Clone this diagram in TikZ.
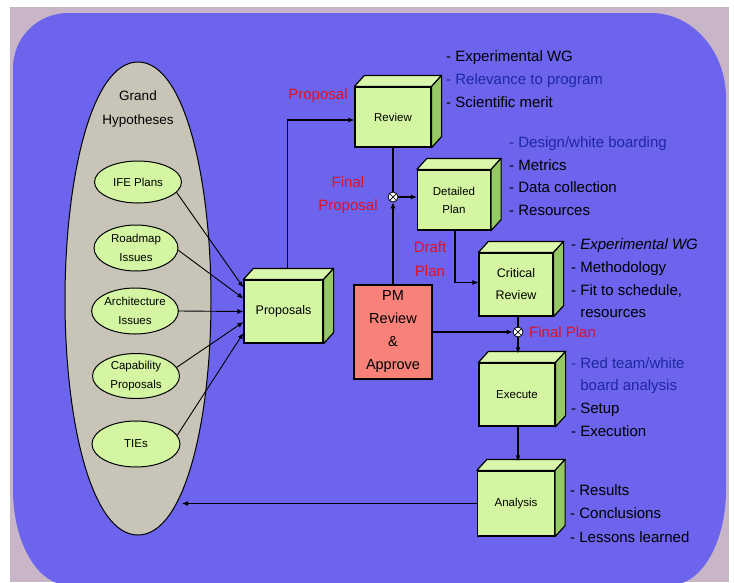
\documentclass[tikz,border=0pt]{standalone}
\usepackage{fontspec}
\setmainfont{Liberation Sans}
\usetikzlibrary{shapes.geometric,arrows.meta,calc}
\definecolor{mauve}{RGB}{200,182,200}
\definecolor{bgpurple}{RGB}{108,100,236}
\definecolor{grandfill}{RGB}{200,196,184}
\definecolor{cubefront}{RGB}{212,246,162}
\definecolor{cubetop}{RGB}{218,248,172}
\definecolor{cubeside}{RGB}{150,200,100}
\definecolor{ellfill}{RGB}{212,246,162}
\definecolor{pmfill}{RGB}{248,130,122}
\definecolor{tred}{RGB}{225,16,36}
\definecolor{tblue}{RGB}{30,40,160}
\newcommand\cubefaces[1]{%
  \filldraw[fill=cubetop,line width=1.2pt,line join=round] (#1.north west) -- ++(10,-11) -- ($(#1.north east)+(10,-11)$) -- (#1.north east) -- cycle;
  \filldraw[fill=cubeside,line width=1.2pt,line join=round] (#1.north east) -- ++(10,-11) -- ($(#1.south east)+(10,-11)$) -- (#1.south east) -- cycle;}
\begin{document}
\begin{tikzpicture}[x=1pt,y=-1pt,
  cubef/.style={rectangle,draw,line width=1.2pt,fill=cubefront,inner sep=0pt,align=center,
    font=\fontsize{11.5}{18}\selectfont},
  smallell/.style={ellipse,draw,line width=1pt,fill=ellfill,inner sep=0pt,align=center,
    font=\fontsize{11.5}{19}\selectfont},
  lst/.style={anchor=west,inner sep=0pt,text height=11pt,text depth=3pt,font=\fontsize{15}{18}\selectfont},
  redlbl/.style={inner sep=0pt,text=tred,align=center,font=\fontsize{15}{23.5}\selectfont},
  junc/.style={circle,draw,line width=0.8pt,fill=white,inner sep=0pt,minimum size=10pt,
    path picture={\draw[line width=0.7pt] (path picture bounding box.north west) -- (path picture bounding box.south east)
      (path picture bounding box.north east) -- (path picture bounding box.south west);}},
  arr/.style={draw,line width=1.1pt,-{Latex[length=6pt,width=5pt]}},
  arrthin/.style={draw,line width=0.9pt,-{Latex[length=6pt,width=5pt]}},
  plainln/.style={draw,line width=1.1pt}]
\useasboundingbox (0,0) rectangle (734,582);
\fill[white] (0,0) rectangle (734,582);
\fill[mauve] (10,7) rectangle (729,582);
\fill[bgpurple] (68,13) -- (651,13) arc[start angle=-90,end angle=0,x radius=75,y radius=85]
  -- (726,490) arc[start angle=0,end angle=90,x radius=55,y radius=95]
  -- (68,585) arc[start angle=90,end angle=180,x radius=55,y radius=95]
  -- (13,68) arc[start angle=180,end angle=270,x radius=55,y radius=55] -- cycle;

% Grand hypotheses (egg shape)
\filldraw[fill=grandfill,line width=1pt] (138,62) .. controls (185,62) and (211,180) .. (211,300)
  .. controls (211,420) and (185,535) .. (138,535)
  .. controls (91,535) and (65,420) .. (65,300)
  .. controls (65,180) and (91,62) .. (138,62) -- cycle;
\node[align=center,inner sep=0pt,font=\fontsize{13.5}{24}\selectfont] (gtitle) at (138,109) {Grand\\Hypotheses};
\node[smallell,minimum width=87pt,minimum height=42pt] (ife) at (138,182) {IFE Plans};
\node[smallell,minimum width=84pt,minimum height=46pt] (road) at (136,248) {Roadmap\\Issues};
\node[smallell,minimum width=86pt,minimum height=46pt] (arch) at (135,311) {Architecture\\Issues};
\node[smallell,minimum width=87pt,minimum height=45pt] (cap) at (136,376) {Capability\\Proposals};
\node[smallell,minimum width=88pt,minimum height=46pt] (ties) at (136,444) {TIEs};

% cubes
\node[cubef,minimum width=79pt,minimum height=63pt,font=\fontsize{12.5}{17}\selectfont] (proposals) at (283.5,311.5) {Proposals};
\cubefaces{proposals}
\node[cubef,minimum width=76pt,minimum height=60pt] (review) at (393,117) {Review};
\cubefaces{review}
\node[cubef,minimum width=73pt,minimum height=60pt] (detailed) at (454,200) {Detailed\\Plan};
\cubefaces{detailed}
\node[cubef,minimum width=74pt,minimum height=63pt,font=\fontsize{12.5}{22}\selectfont] (critical) at (516,284.5) {Critical\\Review};
\cubefaces{critical}
\node[cubef,minimum width=76pt,minimum height=63pt] (execute) at (517,394.5) {Execute};
\cubefaces{execute}
\node[cubef,minimum width=77pt,minimum height=65pt] (analysis) at (516,503.5) {Analysis};
\cubefaces{analysis}

% PM box
\node[rectangle,draw,line width=1.2pt,fill=pmfill,minimum width=78pt,minimum height=94pt,inner sep=0pt,
  align=center,font=\fontsize{14.5}{23}\selectfont] (pm) at (393,332) {PM\\Review\\\&\\Approve};

% junctions
\node[junc] (j1) at (393,197) {};
\node[junc] (j2) at (518,332) {};
\coordinate (gh) at (182,503.5);

% connectors
\draw[arrthin] (ife.-15) -- ([yshift=24pt]proposals.west);
\draw[arrthin] (road.-3) -- ([yshift=13pt]proposals.west);
\draw[arrthin] (arch.east) -- (proposals.west);
\draw[arrthin] (cap.12) -- ([yshift=-10.5pt]proposals.west);
\draw[arrthin] (ties.12) -- ([yshift=-21.5pt]proposals.west);
\draw[arr] ($(proposals.north)+(4,-10)$) |- ([yshift=-3pt]review.west);
\draw[plainln] (review.south -| j1) -- (j1);
\draw[arr] (pm.north -| j1) -- (j1);
\draw[arr] (j1) -- (j1 -| detailed.west);
\draw[arr] ([xshift=1pt]detailed.south) |- ([yshift=2pt]critical.west);
\draw[plainln] (critical.south -| j2) -- (j2);
\draw[arr] (j2 -| pm.east) -- (j2);
\draw[arr] (j2) -- ($(j2 |- execute.north)+(0,-9)$);
\draw[arr] (execute.south -| j2) -- ($(j2 |- analysis.north)+(0,-9)$);
\draw[arr] (analysis.west) -- (gh);

% red labels
\node[redlbl] (lprop) at (318,96) {Proposal};
\node[redlbl] (lfinal) at (348,195) {Final\\Proposal};
\node[redlbl] (ldraft) at (430,259) {Draft\\Plan};
\node[redlbl,anchor=west] (lfplan) at (529,332) {Final Plan};

% lists
\node[lst] (ra) at (446,57) {- Experimental WG};
\node[lst,text=tblue] (rb) at (446,80) {- Relevance to program};
\node[lst] (rc) at (446,103) {- Scientific merit};
\node[lst,text=tblue] (da) at (509,143) {- Design/white boarding};
\node[lst] (db) at (509,166) {- Metrics};
\node[lst] (dc) at (509,188) {- Data collection};
\node[lst] (dd) at (509,211) {- Resources};
\node[lst] (ca) at (571,245) {- \textit{Experimental WG}};
\node[lst] (cb) at (571,268) {- Methodology};
\node[lst] (cc) at (571,291) {- Fit to schedule,};
\node[lst] (cd) at (571,313) {\phantom{- }resources};
\node[lst,text=tblue] (ea) at (571,364) {- Red team/white};
\node[lst,text=tblue] (eb) at (571,386) {\phantom{- }board analysis};
\node[lst] (ec) at (571,409) {- Setup};
\node[lst] (ed) at (571,432) {- Execution};
\node[lst] (aa) at (570,491) {- Results};
\node[lst] (ab) at (570,514) {- Conclusions};
\node[lst] (ac) at (570,538) {- Lessons learned};
\end{tikzpicture}
\end{document}
